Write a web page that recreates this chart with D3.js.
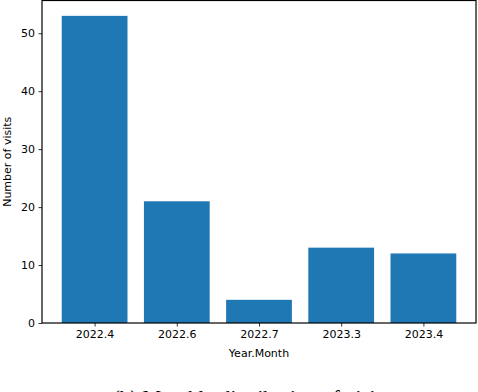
<!DOCTYPE html>
<html>
<head>
<meta charset="utf-8">
<style>
  body { margin: 0; background: #fff; }
  text { font-family: "DejaVu Sans", sans-serif; }
  .tick text { font-size: 11px; fill: #000; }
  .caption { font-family: "Liberation Serif", "Times New Roman", serif; font-size: 21px; }
</style>
</head>
<body>
<script src="https://cdn.jsdelivr.net/npm/d3@7"></script>
<script>
// chart data
var months = ['2022.4', '2022.6', '2022.7', '2023.3', '2023.4'];
var visits = [53, 21, 4, 13, 12];
var yTicks = [0, 10, 20, 30, 40, 50];

var W = 478, H = 392;
// plot area (window.top is read-only, so prefixed names)
var pLeft = 42, pRight = 476, pTop = 0.5, pBottom = 323;

var svg = d3.select('body').append('svg')
  .attr('width', W)
  .attr('height', H);

// matplotlib style: bar width 0.8, 5% margins
var x = d3.scaleLinear()
  .domain([-0.64, months.length - 1 + 0.64])
  .range([pLeft, pRight]);

var y = d3.scaleLinear()
  .domain([0, d3.max(visits) * 1.05])
  .range([pBottom, pTop]);

svg.selectAll('rect.bar')
  .data(visits)
  .enter().append('rect')
  .attr('class', 'bar')
  .attr('x', function(d, i){ return x(i - 0.4); })
  .attr('width', function(d, i){ return x(i + 0.4) - x(i - 0.4); })
  .attr('y', function(d){ return y(d); })
  .attr('height', function(d){ return y(0) - y(d); })
  .attr('fill', '#1f77b4');

// axes
var xAxis = d3.axisBottom(x)
  .tickValues(d3.range(months.length))
  .tickFormat(function(i){ return months[i]; })
  .tickSize(3.5)
  .tickPadding(3.5);

var yAxis = d3.axisLeft(y)
  .tickValues(yTicks)
  .tickSize(3.5)
  .tickPadding(3.5);

var gx = svg.append('g')
  .attr('transform', 'translate(0,' + pBottom + ')')
  .call(xAxis);
var gy = svg.append('g')
  .attr('transform', 'translate(' + pLeft + ',0)')
  .call(yAxis);

[gx, gy].forEach(function(g){
  g.select('.domain').remove();
  g.selectAll('.tick line').attr('stroke', '#000').attr('stroke-width', 0.8);
  g.selectAll('.tick text').attr('font-family', 'DejaVu Sans');
});

// frame
svg.append('rect')
  .attr('x', pLeft)
  .attr('y', pTop)
  .attr('width', pRight - pLeft)
  .attr('height', pBottom - pTop)
  .attr('fill', 'none')
  .attr('stroke', '#000')
  .attr('stroke-width', 1.2);

// labels
svg.append('text')
  .attr('x', (pLeft + pRight) / 2)
  .attr('y', 357)
  .attr('text-anchor', 'middle')
  .attr('font-size', 11)
  .text('Year.Month');

svg.append('text')
  .attr('transform', 'translate(11,' + ((pTop + pBottom) / 2) + ') rotate(-90)')
  .attr('text-anchor', 'middle')
  .attr('font-size', 11)
  .text('Number of visits');

// figure caption, partly below the window as in the reference
svg.append('text')
  .attr('class', 'caption')
  .attr('x', 251)
  .attr('y', 405)
  .attr('text-anchor', 'middle')
  .text('(b) Monthly distribution of visits');
</script>
</body>
</html>
